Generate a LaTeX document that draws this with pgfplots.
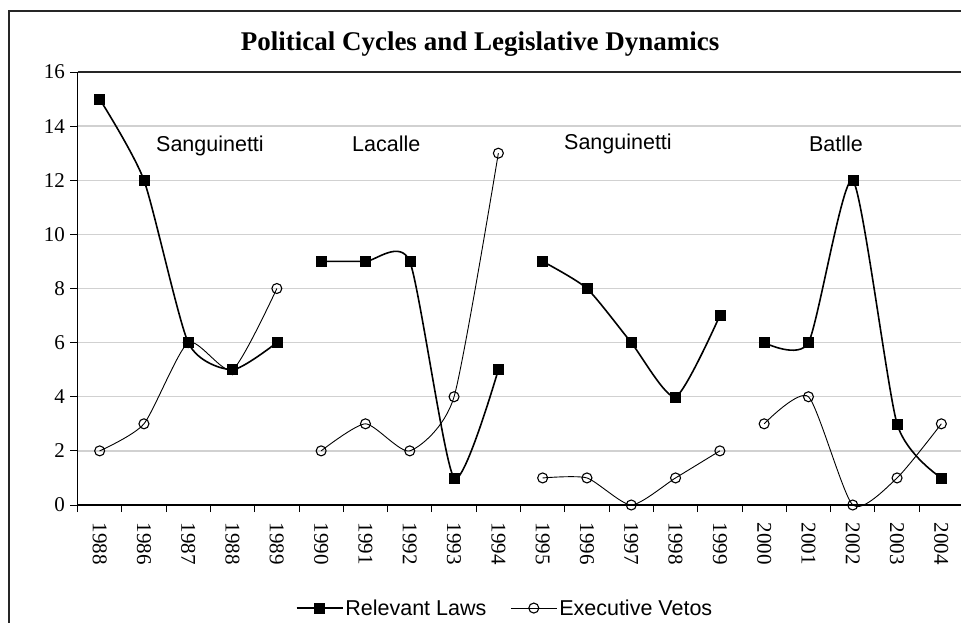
\documentclass[border=0pt]{standalone}
\usepackage{pgfplots}
\pgfplotsset{compat=1.18}
\usepackage{fontspec}
\setmainfont{Liberation Serif}
\newfontfamily\arial{Liberation Sans}

\pgfplotstableread{
x laws vetos
0 15 2
1 12 3
2 6 6
3 5 5
4 6 8
}\tA
\pgfplotstableread{
x laws vetos
5 9 2
6 9 3
7 9 2
8 1 4
9 5 13
}\tB
\pgfplotstableread{
x laws vetos
10 9 1
11 8 1
12 6 0
13 4 1
14 7 2
}\tC
\pgfplotstableread{
x laws vetos
15 6 3
16 6 4
17 12 0
18 3 1
19 1 3
}\tD

\begin{document}
\begin{tikzpicture}[x=1pt,y=1pt]
\useasboundingbox (0,0) rectangle (961,622);
\draw[line width=1.3pt, black!85] (9,-5) -- (9,611) -- (975,611);
\node[anchor=base, font=\fontsize{27}{30}\selectfont\bfseries] at (480,571) {Political Cycles and Legislative Dynamics};
\begin{axis}[
  at={(77.5pt,117pt)}, anchor=south west,
  scale only axis, width=886pt, height=433pt,
  xmin=-0.5, xmax=19.5, ymin=0, ymax=16,
  clip=false,
  /pgf/number format/assume math mode=true,
  axis x line*=bottom, axis y line*=left,
  axis line style={line width=1.2pt, -},
  ytick={0,2,...,16},
  ymajorgrids, major grid style={line width=1.4pt, black!18},
  xtick={0,...,19},
  xticklabels={1988,1986,1987,1988,1989,1990,1991,1992,1993,1994,1995,1996,1997,1998,1999,2000,2001,2002,2003,2004},
  minor xtick={-0.5,0.5,...,19.5},
  major x tick style={draw=none},
  tick align=outside,
  major tick length=7pt, minor tick length=7pt,
  tick style={line width=0.9pt, black},
  ticklabel style={font=\rmfamily\fontsize{21}{23}\selectfont},
  xticklabel style={rotate=-90, anchor=west},
  xticklabel shift=7pt,
  yticklabel shift=2pt,
  legend style={at={(0.4825,-0.238)}, anchor=center, draw=none, fill=none,
    legend columns=2, font=\arial\fontsize{21.5}{24}\selectfont,
    /tikz/every even column/.append style={column sep=22pt},
    inner sep=0pt},
  legend image code/.code={\draw[mark repeat=2,mark phase=2,#1] plot coordinates {(0pt,0pt)(23pt,0pt)(46pt,0pt)};},
  after end axis/.code={\draw[line width=2pt, black!85] (rel axis cs:0,1) -- (rel axis cs:1.02,1);},
  laws/.style={black, line width=1.6pt, smooth, tension=0.38, mark=square*, mark size=5pt, mark options={solid, line width=0.5pt}},
  vetos/.style={black, line width=0.9pt, smooth, tension=0.38, mark=o, mark size=5pt, mark options={fill=white, line width=1.1pt}},
]
\addplot[laws] table[x=x,y=laws] {\tA};
\addlegendentry{Relevant Laws}
\addplot[vetos] table[x=x,y=vetos] {\tA};
\addlegendentry{Executive Vetos}
\addplot[laws, forget plot] table[x=x,y=laws] {\tB};
\addplot[vetos, forget plot] table[x=x,y=vetos] {\tB};
\addplot[laws, forget plot] table[x=x,y=laws] {\tC};
\addplot[vetos, forget plot] table[x=x,y=vetos] {\tC};
\addplot[laws, forget plot] table[x=x,y=laws] {\tD};
\addplot[vetos, forget plot] table[x=x,y=vetos] {\tD};
\node[anchor=base, font=\arial\fontsize{21.5}{24}\selectfont] at (axis cs:2.49,13.08) {Sanguinetti};
\node[anchor=base, font=\arial\fontsize{21.5}{24}\selectfont] at (axis cs:6.47,13.08) {Lacalle};
\node[anchor=base, font=\arial\fontsize{21.5}{24}\selectfont] at (axis cs:11.70,13.15) {Sanguinetti};
\node[anchor=base, font=\arial\fontsize{21.5}{24}\selectfont] at (axis cs:16.62,13.08) {Batlle};
\end{axis}
\end{tikzpicture}
\end{document}
